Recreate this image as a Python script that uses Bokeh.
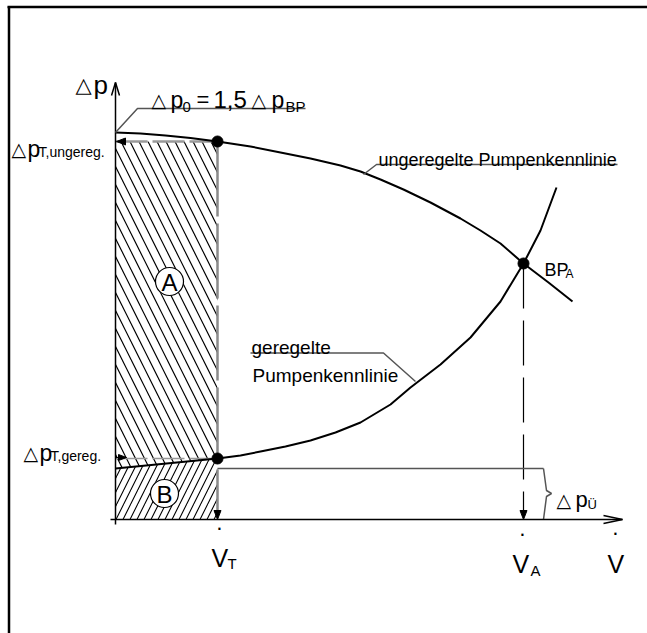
from bokeh.plotting import figure
from bokeh.models import Range1d
from bokeh.embed import file_html
from bokeh.resources import INLINE
from bokeh.core.properties import value

# ---------------- data (diagram units: flow V, pressure dp) ----------------
V_T = 102            # partial-load flow  V_T
V_A = 408            # design flow        V_A
dp_0 = 387           # shut-off head  dp_0 = 1,5 dp_BP
dp_BP = 256          # head at operating point BP_A
dp_T_ungereg = 378   # head at V_T, unregulated pump
dp_T_gereg = 61      # head at V_T, regulated pump
dp_U = 51            # dp_Ü

V_unreg = [0, 25, 50, 75, 102, 135, 165, 195, 225, 245, 265, 288, 315, 345, 365, 385, 408, 433, 457]
dp_unreg = [387, 386, 384, 381.5, 378, 373, 367, 361, 354, 348, 340, 330, 317, 301, 289, 276, 256, 237, 218]

V_reg = [0, 102, 125, 145, 170, 195, 220, 245, 275, 295, 325, 355, 385, 408, 425, 441]
dp_reg = [51, 61, 64, 68, 73, 79, 87, 97, 115, 132, 155, 182, 218, 256, 289, 332]

V_axis_end = 507
dp_axis_end = 437

# ---------------- figure ----------------
W, H = 647, 633
X0, Y0 = 115, 519   # pixel position of the origin inside the canvas
p = figure(width=W, height=H, output_backend="svg", toolbar_location=None,
           x_range=Range1d(-X0, W - X0), y_range=Range1d(Y0 - H, Y0),
           x_axis_location=None, y_axis_location=None, min_border=0,
           outline_line_color=None, background_fill_color="white",
           border_fill_color="white")
p.grid.visible = False


def X(px):
    return px - 115


def Y(py):
    return 519 - py


SANS = "Liberation Sans"
SYM = "DejaVu Sans"
GRAY = "#555555"


def txt(x, y, s, size, font=SANS, align="left", baseline="alphabetic"):
    p.text(x=[x], y=[y], text=[s], text_font=value(font), text_font_size=f"{size}px",
           text_align=align, text_baseline=baseline, text_color="black")


# frame (top and left border of the sheet)
p.line([X(7), X(660)], [Y(6.5), Y(6.5)], line_color="black", line_width=2.5)
p.line([X(8.5), X(8.5)], [Y(6), Y(650)], line_color="black", line_width=2.5)

# hatched areas A and B
p.patch([0, 0, V_T, V_T], [dp_U, dp_T_ungereg, dp_T_ungereg, dp_T_gereg],
        fill_alpha=0, line_color=None, hatch_pattern="left_diagonal_line",
        hatch_scale=18, hatch_weight=1.2, hatch_color="black")
p.patch([0, V_T, V_T, 0], [0, 0, dp_T_gereg, dp_U],
        fill_alpha=0, line_color=None, hatch_pattern="right_diagonal_line",
        hatch_scale=14, hatch_weight=1.1, hatch_color="black")

# dashed helper lines
p.line([0, V_T], [dp_T_ungereg, dp_T_ungereg], line_color="#999999", line_width=2.5,
       line_dash="32 5")
p.line([0, V_T], [dp_T_gereg, dp_T_gereg], line_color="#999999", line_width=1.5,
       line_dash="32 5")
p.line([V_T, V_T], [dp_T_ungereg, 9], line_color="#8a8a8a", line_width=2.5,
       line_dash="75 7")
p.line([V_A, V_A], [dp_BP, 9], line_color="black", line_width=1.2, line_dash="45 12")

# dp_Ü level and brace
p.line([V_T, X(543)], [dp_U, dp_U], line_color=GRAY, line_width=1.5)
p.line([X(543), X(546), X(551), X(546), X(543)], [dp_U, Y(490), Y(493), Y(496), 0],
       line_color=GRAY, line_width=1.5)

# axes with open arrow heads
p.line([0, 0], [-5, dp_axis_end], line_color="black", line_width=1.5)
p.line([-4, 0, 4], [dp_axis_end - 13, dp_axis_end, dp_axis_end - 13],
       line_color="black", line_width=1.5)
p.line([-5, V_axis_end], [0, 0], line_color="black", line_width=1.5)
p.line([V_axis_end - 19, V_axis_end, V_axis_end - 19], [4, 0, -4],
       line_color="black", line_width=1.5)

# small filled arrow heads
p.patch([V_T - 3.5, V_T + 3.5, V_T], [9, 9, 0], fill_color="black", line_color="black")
p.patch([V_A - 3.5, V_A + 3.5, V_A], [9, 9, 0], fill_color="black", line_color="black")
p.patch([1, 10, 10], [dp_T_ungereg, dp_T_ungereg + 3.5, dp_T_ungereg - 3.5],
        fill_color="black", line_color="black")
p.line([0, 10], [dp_T_gereg + 1, dp_T_gereg + 1], line_color="black", line_width=1.2)
p.patch([11, 3, 3], [dp_T_gereg + 1, dp_T_gereg + 4, dp_T_gereg - 2],
        fill_color="black", line_color="black")

# pump curves
p.line(V_unreg, dp_unreg, line_color="black", line_width=2)
p.line(V_reg, dp_reg, line_color="black", line_width=2)

# leader lines
p.line([0, X(137), X(305)], [dp_0, Y(108), Y(108)], line_color=GRAY, line_width=1.5)
p.line([X(363), X(376), X(617)], [Y(174), Y(164), Y(164)], line_color=GRAY, line_width=1.5)
p.line([X(250), X(383), X(415)], [Y(352.5), Y(352.5), Y(381)], line_color=GRAY, line_width=1.5)

# operating points
p.scatter([V_T, V_T, V_A], [dp_T_ungereg, dp_T_gereg, dp_BP], size=11,
          fill_color="black", line_color="black")

# circled area labels
p.circle([X(169), X(164)], [Y(281), Y(493)], radius=14, fill_color="white",
         line_color="black", line_width=1.2)
txt(X(169), Y(282), "A", 24, align="center", baseline="middle")
txt(X(164), Y(494), "B", 24, align="center", baseline="middle")

# axis labels
txt(X(75), Y(84), "△", 21, font=SYM)
txt(X(93), Y(84), "p", 26)

txt(X(607), Y(563), "V", 25)
txt(X(615), Y(532), "·", 22, align="center", baseline="middle")
txt(X(512), Y(563), "V", 25)
txt(X(530), Y(570), "A", 15)
txt(X(522), Y(533), "·", 22, align="center", baseline="middle")
txt(X(211), Y(557), "V", 25)
txt(X(227), Y(563), "T", 15)
txt(X(219), Y(527), "·", 22, align="center", baseline="middle")

# dp_0 = 1,5 dp_BP
txt(X(151), Y(99), "△", 19, font=SYM)
txt(X(170), Y(99), "p", 23)
txt(X(182), Y(106), "0", 15)
txt(X(196), Y(99), "=", 22)
txt(X(213), Y(99), "1,5", 24)
txt(X(251), Y(99), "△", 19, font=SYM)
txt(X(271), Y(99), "p", 23)
txt(X(285), Y(106), "BP", 15)

# left pressure labels
txt(X(11), Y(148), "△", 19, font=SYM)
txt(X(27), Y(148), "p", 23)
txt(X(38), Y(151), "T,ungereg.", 14)
txt(X(23), Y(452), "△", 19, font=SYM)
txt(X(39), Y(452), "p", 23)
txt(X(50), Y(455), "T,gereg.", 14)

# dp_Ü
txt(X(556), Y(499), "△", 19, font=SYM)
txt(X(575), Y(499), "p", 22)
txt(X(587), Y(504), "Ü", 13)

# curve names
txt(X(378), Y(159), "ungeregelte Pumpenkennlinie", 18)
txt(X(251), Y(347), "geregelte", 19)
txt(X(252), Y(375), "Pumpenkennlinie", 19)
txt(X(544), Y(269), "BP", 18)
txt(X(565), Y(273), "A", 12)

open("out.html", "w").write(file_html(p, INLINE))
